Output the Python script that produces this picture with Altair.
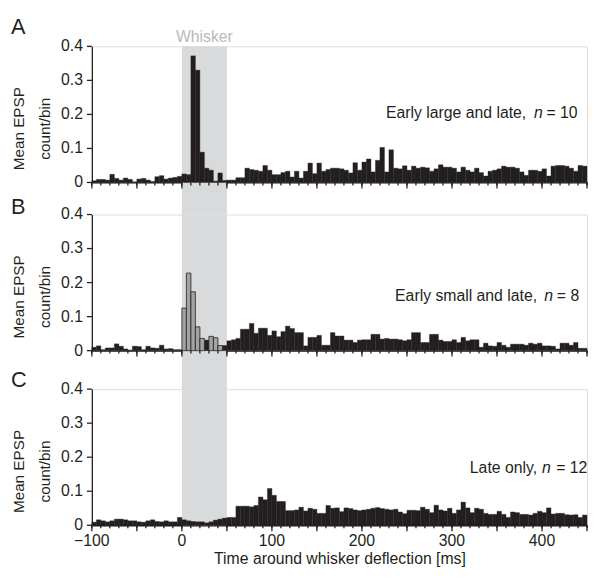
import altair as alt
import pandas as pd

# ---- data ----
bin_starts = list(range(-100, 450, 5))  # 5 ms bins, -100 .. 450 ms

A_vals = [0.005, 0.009, 0.009, 0.007, 0.024, 0.012, 0.007, 0.013, 0.009, 0.002,
          0.010, 0.012, 0.007, 0.003, 0.017, 0.020, 0.010, 0.013, 0.015, 0.018,
          0.025, 0.023, 0.372, 0.330, 0.089, 0.042, 0.036, 0.004, 0.028, 0.006,
          0.007, 0.007, 0.014, 0.014, 0.042, 0.038, 0.036, 0.033, 0.050, 0.036,
          0.023, 0.023, 0.029, 0.033, 0.016, 0.033, 0.013, 0.033, 0.057, 0.026,
          0.057, 0.033, 0.038, 0.042,
          0.042, 0.040, 0.036, 0.028, 0.058, 0.036, 0.060, 0.069, 0.031, 0.065,
          0.103, 0.031, 0.096, 0.042, 0.040, 0.049, 0.036, 0.048, 0.042, 0.045,
          0.043, 0.033, 0.040, 0.052, 0.045, 0.045, 0.042, 0.031, 0.045, 0.036,
          0.031, 0.042, 0.029, 0.019, 0.033, 0.036, 0.040, 0.048, 0.045, 0.045,
          0.042, 0.031, 0.021, 0.036, 0.036, 0.033, 0.040, 0.019, 0.048, 0.050,
          0.050, 0.048, 0.042, 0.033, 0.050, 0.048]

B_vals = [0.010, 0.014, 0.003, 0.008, 0.008, 0.020, 0.013, 0.005, 0.002, 0.013,
          0.012, 0.003, 0.013, 0.008, 0.007, 0.016, 0.005, 0.006, 0.003, 0.003,
          0.125, 0.228, 0.173, 0.070, 0.036, 0.031, 0.042, 0.038, 0.015, 0.015,
          0.029, 0.032, 0.036, 0.063, 0.063, 0.080, 0.051, 0.066, 0.066, 0.045,
          0.058, 0.041, 0.056, 0.072, 0.065, 0.053, 0.053, 0.014, 0.039, 0.039,
          0.045, 0.016, 0.016, 0.053,
          0.043, 0.043, 0.031, 0.031, 0.024, 0.031, 0.032, 0.032, 0.048, 0.048,
          0.034, 0.036, 0.034, 0.034, 0.032, 0.029, 0.032, 0.053, 0.053, 0.024,
          0.024, 0.048, 0.048, 0.031, 0.027, 0.027, 0.032, 0.024, 0.039, 0.029,
          0.032, 0.032, 0.010, 0.022, 0.014, 0.013, 0.024, 0.016, 0.010, 0.019,
          0.019, 0.019, 0.016, 0.022, 0.019, 0.022, 0.014, 0.014, 0.013, 0.005,
          0.022, 0.022, 0.016, 0.024, 0.007, 0.007]
B_gray_bins = [20, 21, 22, 23, 24, 26, 27, 28]

C_vals = [0.009, 0.016, 0.013, 0.010, 0.013, 0.018, 0.018, 0.016, 0.013, 0.013,
          0.010, 0.009, 0.013, 0.016, 0.011, 0.010, 0.013, 0.010, 0.010, 0.023,
          0.016, 0.013, 0.011, 0.010, 0.010, 0.007, 0.010, 0.015, 0.018, 0.021,
          0.023, 0.023, 0.056, 0.056, 0.056, 0.054, 0.058, 0.083, 0.075, 0.108,
          0.088, 0.070, 0.070, 0.043, 0.043, 0.045, 0.053, 0.042, 0.050, 0.047,
          0.035, 0.035, 0.058, 0.050, 0.051,
          0.040, 0.051, 0.049, 0.045, 0.043, 0.045, 0.047, 0.050, 0.052, 0.049,
          0.047, 0.045, 0.047, 0.039, 0.034, 0.044, 0.044, 0.043, 0.053, 0.047,
          0.037, 0.059, 0.045, 0.042, 0.050, 0.035, 0.045, 0.068, 0.051, 0.037,
          0.050, 0.047, 0.035, 0.032, 0.032, 0.041, 0.032, 0.023, 0.039, 0.037,
          0.032, 0.032, 0.030, 0.035, 0.041, 0.037, 0.051, 0.033, 0.035, 0.035,
          0.031, 0.030, 0.031, 0.023, 0.030]

x_minor_ticks = list(range(-100, 451, 10))
x_major_ticks = list(range(-100, 451, 50))
x_label_values = [-100, 0, 100, 200, 300, 400]
x_label_texts = ["\u2212100", "0", "100", "200", "300", "400"]
y_ticks = [0, 0.1, 0.2, 0.3, 0.4]
y_tick_texts = ["0", "0.1", "0.2", "0.3", "0.4"]
whisker_window = [0, 50]

assert len(A_vals) == len(B_vals) == len(C_vals) == len(bin_starts)

# ---- style ----
INK = "#231f20"
GRAY_FILL = "#a3a3a3"
BAND = "#d9dadb"
WHISKER_TXT = "#b9babc"
FONT = "Liberation Sans"
W, H = 502, 138
XDOM = [-100, 450]
MAJOR_LEN = 6
MINOR_LEN = 3
Y_TICK_LEN = 5
LW = 1.3


def x_axis(show):
    kw = dict(grid=False, labels=False, ticks=False, domainColor=INK, domainWidth=LW)
    if show:
        return alt.Axis(title="Time around whisker deflection [ms]", titleFontSize=16,
                        titleFontWeight="normal", titleColor=INK, titleFont=FONT,
                        titlePadding=26, **kw)
    return alt.Axis(title=None, **kw)


def y_axis():
    return alt.Axis(grid=False, labels=False, ticks=False, domainColor=INK, domainWidth=LW,
                    title=["Mean EPSP", "count/bin"], titleFontSize=15.5,
                    titleFontWeight="normal", titleColor=INK, titleFont=FONT,
                    titleX=-69, titleY=83, titleBaseline="alphabetic",
                    titleAlign="center", titleAngle=270, titleLineHeight=26)


def make_panel(vals, gray_bins, letter, letter_y, main_text, main_x, n_x,
               eq_text, eq_x, text_y, band_y2, show_x, whisker_label=False):
    df = pd.DataFrame({"start": bin_starts,
                       "end": [s + 5 for s in bin_starts],
                       "v": vals})
    df["kind"] = ["gray" if i in gray_bins else "black" for i in range(len(vals))]
    xs = alt.Scale(domain=XDOM, nice=False, zero=False)
    ys = alt.Scale(domain=[0, 0.4], nice=False, zero=False)
    xa = x_axis(show_x)
    ya = y_axis()
    X = lambda f: alt.X(f, scale=xs, axis=xa)
    Y = lambda f: alt.Y(f, scale=ys, axis=ya)

    band = alt.Chart(pd.DataFrame({"start": [whisker_window[0]], "end": [whisker_window[1]]})).mark_rect(
        color=BAND, clip=False).encode(
        x=X("start:Q"), x2="end:Q",
        y=alt.value(0), y2=alt.value(band_y2))

    black = alt.Chart(df[df["kind"] == "black"]).mark_rect(
        color=INK, stroke=INK, strokeWidth=0.4).encode(
        x=X("start:Q"), x2="end:Q", y=Y("v:Q"), y2=alt.datum(0))

    layers = [band, black]
    gdf = df[df["kind"] == "gray"]
    if len(gdf):
        layers.append(alt.Chart(gdf).mark_rect(
            color=GRAY_FILL, stroke=INK, strokeWidth=0.8).encode(
            x=X("start:Q"), x2="end:Q", y=Y("v:Q"), y2=alt.datum(0)))

    # x ticks: short every 10 ms, long every 50 ms
    layers.append(alt.Chart(pd.DataFrame({"start": x_minor_ticks})).mark_rule(
        color=INK, strokeWidth=LW, clip=False).encode(
        x=X("start:Q"), y=alt.value(H), y2=alt.value(H + MINOR_LEN)))
    layers.append(alt.Chart(pd.DataFrame({"start": x_major_ticks})).mark_rule(
        color=INK, strokeWidth=LW, clip=False).encode(
        x=X("start:Q"), y=alt.value(H), y2=alt.value(H + MAJOR_LEN)))

    # y ticks + labels
    ydf = pd.DataFrame({"v": y_ticks, "t": y_tick_texts})
    layers.append(alt.Chart(ydf).mark_rule(color=INK, strokeWidth=LW, clip=False).encode(
        y=Y("v:Q"), x=alt.value(-Y_TICK_LEN), x2=alt.value(0)))
    layers.append(alt.Chart(ydf).mark_text(
        fontSize=16, font=FONT, color=INK, align="right", baseline="middle").encode(
        y=Y("v:Q"), x=alt.value(-9), text="t:N"))

    if show_x:
        xdf = pd.DataFrame({"start": x_label_values, "t": x_label_texts})
        layers.append(alt.Chart(xdf).mark_text(
            fontSize=16, font=FONT, color=INK, align="center", baseline="alphabetic").encode(
            x=X("start:Q"), y=alt.value(H + 21), text="t:N"))

    layers.append(alt.Chart(pd.DataFrame({"t": [letter]})).mark_text(
        fontSize=22, font=FONT, color=INK, align="left", baseline="alphabetic").encode(
        text="t:N", x=alt.value(-82), y=alt.value(letter_y)))

    layers.append(alt.Chart(pd.DataFrame({"t": [main_text]})).mark_text(
        fontSize=16, font=FONT, color=INK, align="right", baseline="alphabetic").encode(
        text="t:N", x=alt.datum(main_x), y=alt.datum(text_y)))
    layers.append(alt.Chart(pd.DataFrame({"t": ["n"]})).mark_text(
        fontSize=16, font=FONT, fontStyle="italic", color=INK, align="left",
        baseline="alphabetic").encode(
        text="t:N", x=alt.datum(n_x), y=alt.datum(text_y)))
    layers.append(alt.Chart(pd.DataFrame({"t": [eq_text]})).mark_text(
        fontSize=16, font=FONT, color=INK, align="left", baseline="alphabetic").encode(
        text="t:N", x=alt.datum(eq_x), y=alt.datum(text_y)))

    if whisker_label:
        layers.append(alt.Chart(pd.DataFrame({"t": ["Whisker"], "start": [25]})).mark_text(
            fontSize=16, font=FONT, color=WHISKER_TXT, align="center",
            baseline="alphabetic").encode(
            text="t:N", x=X("start:Q"), y=alt.value(-4)))

    return alt.layer(*layers).properties(width=W, height=H)


pA = make_panel(A_vals, [], "A", -13, "Early large and late,", 382.5, 391, "= 10", 405,
                0.188, H + 32.5, False, whisker_label=True)
pB = make_panel(B_vals, B_gray_bins, "B", -0.5, "Early small and late,", 394.5, 402.6, "= 8",
                416.5, 0.1455, H + 39, False)
pC = make_panel(C_vals, [], "C", -2, "Late only,", 394.5, 400, "= 12", 415.7,
                0.155, H, True)

bottom = alt.vconcat(pB, pC, spacing=39, bounds="flush")
chart = alt.vconcat(pA, bottom, spacing=32.5, bounds="flush").properties(
    padding={"left": 2, "top": 3, "right": 0, "bottom": 0}
).configure_view(stroke=None).configure(font=FONT)

chart.save("out.html", embed_options={"renderer": "svg", "actions": False})
